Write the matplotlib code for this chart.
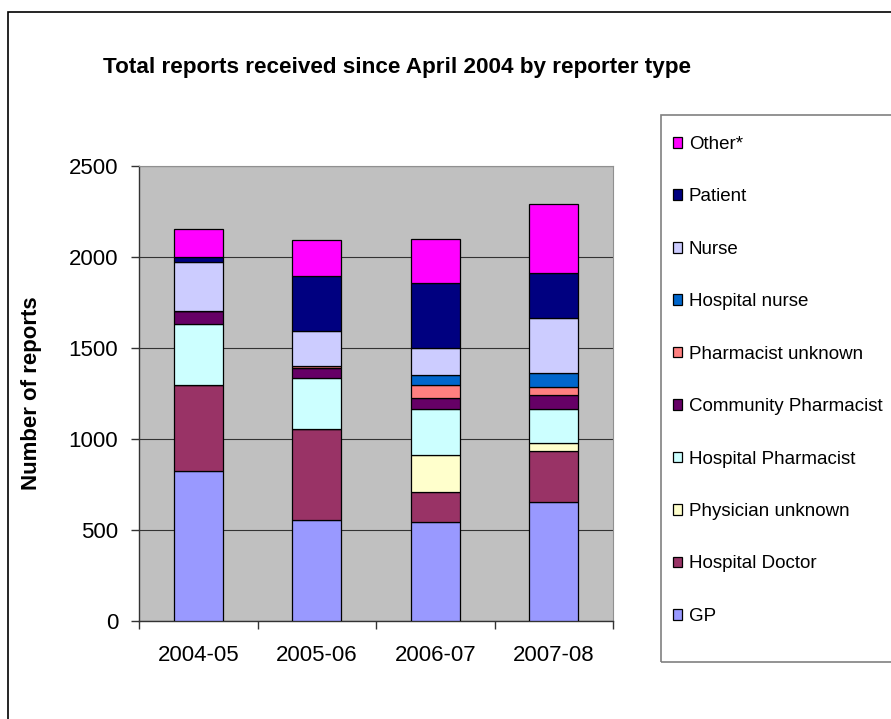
import matplotlib
matplotlib.use("Agg")
import matplotlib.pyplot as plt
from matplotlib.patches import Rectangle, Patch
import numpy as np

plt.rcParams['font.family'] = ['Liberation Sans', 'DejaVu Sans']

years = ["2004-05", "2005-06", "2006-07", "2007-08"]
series_names = ["GP", "Hospital Doctor", "Physician unknown", "Hospital Pharmacist",
                "Community Pharmacist", "Pharmacist unknown", "Hospital nurse",
                "Nurse", "Patient", "Other*"]
gp = [825, 557, 542, 653]
hospital_doctor = [471, 498, 166, 281]
physician_unknown = [0, 0, 204, 42]
hospital_pharmacist = [337, 281, 252, 188]
community_pharmacist = [71, 56, 60, 77]
pharmacist_unknown = [0, 8, 72, 45]
hospital_nurse = [0, 0, 58, 77]
nurse = [269, 195, 146, 303]
patient = [25, 301, 358, 245]
other = [155, 195, 242, 379]
yticks = [0, 500, 1000, 1500, 2000, 2500]

series = [gp, hospital_doctor, physician_unknown, hospital_pharmacist,
          community_pharmacist, pharmacist_unknown, hospital_nurse,
          nurse, patient, other]
colors = ["#9999FF", "#993366", "#FFFFCC", "#CCFFFF", "#660066",
          "#FF8080", "#0066CC", "#CCCCFF", "#000080", "#FF00FF"]

W, H = 891, 719
fig = plt.figure(figsize=(W / 100, H / 100), dpi=100)
fig.patch.set_facecolor("white")

# outer chart border
fig.patches.append(Rectangle((8 / W, -0.1), 2.0, (H - 12) / H + 0.1,
                             transform=fig.transFigure, fill=False,
                             edgecolor="black", linewidth=1.2))
# legend frame
fig.patches.append(Rectangle((661 / W, 1 - 662 / H), 1.0, (662 - 115) / H,
                             transform=fig.transFigure, fill=False,
                             edgecolor="#808080", linewidth=1.2))

ax = fig.add_axes([139 / W, 1 - 621 / H, 474 / W, 455 / H])
ax.set_facecolor("#C0C0C0")

x = np.arange(len(years))
bottom = np.zeros(len(years))
handles = []
for name, vals, c in zip(series_names, series, colors):
    v = np.array(vals, dtype=float)
    ax.bar(x, v, width=0.41, bottom=bottom, color=c, edgecolor="black",
           linewidth=0.9, zorder=3)
    bottom += v
    handles.append(Patch(facecolor=c, edgecolor="black", linewidth=0.9, label=name))

ax.set_xlim(-0.5, len(years) - 0.5)
ax.set_ylim(0, 2500)
ax.set_yticks(yticks)
ax.set_yticklabels([str(t) for t in yticks])
ax.yaxis.grid(True, color="#333333", linewidth=0.8, zorder=1)
ax.set_axisbelow(True)

ax.set_xticks(x)
ax.set_xticklabels(years)
ax.set_xticks(np.arange(-0.5, len(years)), minor=True)
ax.tick_params(axis="x", which="major", length=0, pad=17, labelsize=16)
ax.tick_params(axis="x", which="minor", length=6, width=1, color="#333333")
ax.tick_params(axis="y", length=6, width=1, color="#333333", pad=9, labelsize=16)

for s in ["left", "bottom"]:
    ax.spines[s].set_color("#333333")
    ax.spines[s].set_linewidth(1.0)
for s in ["top", "right"]:
    ax.spines[s].set_color("#909090")
    ax.spines[s].set_linewidth(0.8)

ax.set_ylabel("Number of reports", fontsize=16, fontweight="bold")
ax.yaxis.set_label_coords((42 - 139) / 474, 0.5)

fig.text(397 / W, 1 - 73.5 / H, "Total reports received since April 2004 by reporter type",
         ha="center", va="baseline", fontsize=16.2, fontweight="bold")

leg = fig.legend(handles=handles[::-1], loc="upper left",
                 bbox_to_anchor=(673 / W, 1 - 136 / H), frameon=False,
                 fontsize=13.5, handlelength=0.5, handleheight=0.5,
                 handletextpad=0.35, labelspacing=1.89, borderaxespad=0,
                 borderpad=0)

fig.savefig("out.png", dpi=100)
